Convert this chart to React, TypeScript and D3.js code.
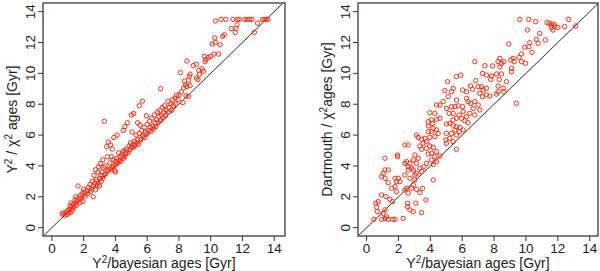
import React from 'react';
import * as d3 from 'd3';

// Y2/bayesian age vs Y2 chi2 age (left panel)
const chiPoints: [number, number][] = [
  [0.65, 0.88], [0.7, 0.95], [0.8, 0.8], [0.9, 1.0], [0.95, 0.85], [1.0, 1.1], [1.05, 0.95], [1.1, 1.2],
  [1.15, 1.4], [1.2, 1.0], [1.2, 1.6], [1.25, 1.3], [1.3, 1.15], [1.35, 1.5], [1.4, 1.35], [1.45, 1.8],
  [1.5, 1.6], [1.5, 2.0], [1.55, 1.45], [1.6, 1.75], [1.65, 2.7], [1.7, 1.9], [1.75, 1.6], [1.8, 2.1],
  [1.85, 1.85], [1.9, 2.2], [1.95, 1.7], [2.0, 2.5], [2.05, 2.3], [2.1, 2.05], [2.2, 2.4],
  [2.25, 2.2], [2.3, 2.6], [2.4, 2.8], [2.45, 2.35], [2.5, 2.5], [2.55, 3.0], [2.6, 2.0], [2.6, 2.7],
  [2.65, 3.4], [2.7, 2.9], [2.75, 2.45], [2.75, 3.75], [2.8, 3.1], [2.85, 2.7], [2.9, 3.6], [2.9, 2.9],
  [2.95, 3.95], [3.0, 3.2], [3.0, 2.7], [3.05, 4.15], [3.1, 3.4], [3.1, 3.0], [3.15, 3.6], [3.2, 4.4],
  [3.2, 3.2], [3.25, 3.9], [3.3, 6.9], [3.3, 3.4], [3.35, 4.0], [3.4, 3.5], [3.45, 5.25], [3.5, 3.7],
  [3.5, 4.6], [3.55, 5.55], [3.6, 3.8], [3.65, 4.2], [3.7, 5.35], [3.7, 3.75], [3.75, 4.6], [3.8, 3.9],
  [3.8, 5.1], [3.85, 4.4], [3.9, 4.0], [3.9, 5.85], [3.95, 3.7], [4.0, 4.3], [4.0, 3.6], [4.05, 4.1],
  [4.1, 6.0], [4.1, 4.5],
  [4.15, 4.2], [4.2, 4.85], [4.25, 4.35], [4.3, 4.6], [4.35, 4.3], [4.4, 4.75], [4.45, 4.9], [4.5, 4.5],
  [4.5, 6.3], [4.55, 5.0], [4.6, 4.6], [4.6, 6.55], [4.65, 4.8], [4.7, 5.1], [4.75, 6.8], [4.8, 4.85],
  [4.85, 5.3], [4.9, 5.05], [4.95, 5.5], [5.0, 7.3], [5.0, 5.2], [5.05, 6.2], [5.1, 5.4], [5.15, 7.4],
  [5.15, 5.2], [5.2, 5.6], [5.25, 5.35], [5.3, 6.0], [5.35, 5.5], [5.4, 6.8], [5.4, 5.7], [5.45, 5.4],
  [5.5, 7.9], [5.5, 6.1], [5.55, 6.65], [5.6, 5.7], [5.65, 6.3], [5.7, 8.2], [5.7, 5.9], [5.75, 6.0],
  [5.8, 6.5], [5.85, 5.85], [5.9, 6.2], [5.95, 7.25], [6.0, 6.1], [6.0, 6.7],
  [6.1, 6.3], [6.15, 6.9], [6.2, 6.5], [6.25, 6.25], [6.3, 7.1], [6.35, 6.6], [6.4, 6.4], [6.45, 7.3],
  [6.5, 6.8], [6.55, 6.55], [6.6, 7.0], [6.65, 7.5], [6.7, 6.8], [6.75, 7.2], [6.8, 7.6], [6.85, 9.0],
  [6.85, 6.95], [6.9, 7.3], [6.95, 7.8], [7.0, 7.1], [7.05, 7.45], [7.1, 7.9], [7.15, 7.25], [7.2, 7.6],
  [7.3, 8.2], [7.35, 7.5], [7.4, 7.8], [7.5, 8.0], [7.55, 7.6], [7.6, 8.3], [7.65, 7.9], [7.75, 8.4],
  [7.8, 8.0], [7.85, 8.6], [7.95, 8.3], [8.0, 8.6], [8.1, 10.05], [8.15, 8.8],
  [8.25, 8.1], [8.3, 9.05], [8.35, 9.5], [8.4, 9.25], [8.45, 8.55], [8.5, 9.15], [8.5, 10.8], [8.6, 9.55],
  [8.65, 9.8], [8.7, 9.95], [8.7, 9.2], [8.6, 8.5], [8.9, 10.5], [9.1, 10.6], [9.1, 9.7], [9.2, 9.6],
  [9.25, 10.2], [9.3, 9.95], [9.45, 10.3], [9.55, 10.15], [9.6, 11.1], [9.65, 10.75], [9.7, 10.9], [9.85, 11.05],
  [10.0, 11.1], [10.1, 11.9], [10.2, 11.25], [10.25, 12.3], [10.3, 12.0], [10.3, 13.4], [10.5, 11.25], [10.6, 11.85],
  [10.65, 13.5], [10.75, 12.4], [10.85, 12.5], [10.95, 13.5], [11.3, 12.9], [11.4, 13.5], [11.55, 12.65], [11.6, 12.9],
  [11.65, 13.15], [11.7, 13.5], [11.8, 13.5], [12.15, 13.5], [12.3, 13.5], [12.45, 13.5], [12.6, 13.5], [12.75, 12.65],
  [12.95, 13.25], [13.25, 13.5], [13.4, 13.5], [13.5, 13.5], [13.6, 13.5],
];

// Y2/bayesian age vs Dartmouth chi2 age (right panel)
const dartPoints: [number, number][] = [
  [9.61, 13.5], [10.18, 13.5], [10.61, 13.35], [12.68, 13.5], [11.32, 13.29], [11.49, 13.24], [11.6, 13.13],
  [11.74, 13.2], [11.6, 12.96], [11.7, 12.81], [11.8, 13.07], [12.0, 12.98], [12.43, 13.03], [13.12, 13.07],
  [10.09, 12.81], [10.86, 12.59], [11.22, 12.16], [10.65, 12.2], [10.76, 11.95], [10.24, 11.99], [10.18, 11.73],
  [9.92, 11.69], [10.38, 11.36], [8.92, 11.9], [9.72, 11.26], [9.57, 11.04], [9.19, 10.97], [9.05, 10.87],
  [9.26, 10.76], [9.72, 10.76], [9.97, 10.65], [8.36, 10.97], [8.25, 10.76], [8.46, 10.65], [8.61, 10.76],
  [6.79, 10.76], [7.42, 10.5], [7.9, 10.48], [8.36, 10.43], [9.09, 10.33], [9.09, 10.11], [8.15, 9.96],
  [8.46, 9.96], [7.84, 9.83], [7.52, 9.89], [7.27, 10.0], [8.32, 9.61], [7.79, 9.61], [5.91, 9.89],
  [5.64, 9.79], [5.08, 9.46], [5.43, 9.03], [5.33, 8.81], [4.91, 8.88], [5.12, 8.49], [4.6, 7.95],
  [4.39, 7.95], [4.81, 8.17], [4.28, 7.41], [3.97, 7.45],
  [6.85, 9.53], [6.52, 9.18], [6.65, 8.97], [7.0, 9.14], [7.21, 9.14], [7.31, 8.92], [7.52, 9.03],
  [7.1, 8.71], [7.27, 8.49], [7.52, 8.6], [7.73, 8.53], [8.25, 8.81], [8.15, 8.66], [8.61, 8.81],
  [9.4, 8.06], [6.27, 8.81], [6.02, 8.92], [6.27, 8.38], [6.37, 8.17], [6.52, 8.06], [6.79, 8.17],
  [7.0, 7.95], [6.69, 7.73], [7.1, 7.63], [6.79, 7.3], [6.48, 7.41], [6.27, 7.19], [6.06, 7.52],
  [6.02, 7.84], [5.64, 8.27], [5.54, 7.84], [5.75, 7.89], [5.33, 7.84], [5.01, 7.73], [5.18, 7.41],
  [5.43, 7.41], [5.81, 7.3], [5.64, 7.09], [5.96, 7.09], [5.43, 6.98], [5.22, 6.76], [5.01, 6.72],
  [5.43, 6.65], [5.64, 6.55], [5.85, 6.5], [6.16, 6.93], [6.37, 6.8], [6.06, 6.33], [5.81, 6.22],
  [5.54, 6.33], [5.33, 6.11], [5.01, 6.11], [5.64, 6.0], [5.22, 5.79], [4.97, 5.68], [5.43, 5.57],
  [5.01, 5.47], [5.64, 5.08], [4.6, 7.09], [4.39, 7.02], [4.07, 6.98], [3.87, 6.87], [4.14, 6.76],
  [3.87, 6.59], [4.18, 6.43], [4.39, 6.33], [4.07, 6.22], [3.87, 6.22], [4.49, 6.11], [4.28, 5.9],
  [3.97, 5.85], [3.66, 5.79], [3.45, 5.72], [3.13, 6.0], [3.24, 5.85], [3.76, 5.57], [3.55, 5.47],
  [3.34, 5.29], [3.97, 5.29], [3.76, 5.14], [3.45, 5.08], [4.18, 5.21], [4.39, 4.93], [4.07, 4.82],
  [3.87, 4.77], [4.28, 4.6], [4.6, 4.64], [4.07, 4.39], [4.39, 4.28], [3.76, 4.17], [4.18, 4.1],
  [3.59, 3.95], [3.34, 3.85], [3.45, 3.63], [3.13, 3.52], [2.93, 3.74], [3.13, 4.17], [3.24, 4.5],
  [3.03, 4.71], [2.93, 4.39], [2.72, 4.17], [2.51, 4.28], [2.4, 4.17], [2.61, 3.95], [2.82, 3.85],
  [2.61, 3.74], [2.4, 3.41], [3.03, 3.41], [2.72, 3.2], [3.03, 3.09], [2.93, 2.77], [2.82, 2.55],
  [2.51, 2.55], [2.4, 2.44], [2.61, 2.23], [3.13, 2.48], [3.34, 2.27], [3.51, 2.55], [3.72, 1.79],
  [4.18, 3.09], [3.09, 1.58], [3.45, 0.97], [2.93, 1.04], [2.57, 1.58], [2.57, 1.36], [2.72, 1.15],
  [2.3, 0.6], [2.4, 5.36], [2.61, 5.36], [1.94, 4.71], [1.94, 4.6], [1.15, 4.5], [1.15, 3.74],
  [1.36, 3.74], [1.04, 3.52], [0.94, 3.31], [1.15, 3.2], [1.78, 3.2], [1.99, 3.2], [1.88, 2.98],
  [2.09, 2.98], [1.36, 2.92], [1.57, 2.55], [1.78, 2.66], [1.88, 2.33], [0.94, 2.12], [1.21, 2.01],
  [1.46, 1.84], [1.63, 1.69], [0.73, 1.69], [0.58, 1.58], [0.63, 1.32], [0.67, 1.04], [1.15, 1.15],
  [1.04, 0.93], [1.25, 0.71], [1.15, 0.6], [0.94, 0.54], [1.36, 0.54], [1.63, 0.54], [0.46, 0.54],
  [1.78, 0.54], [8.57, 9.03], [8.78, 9.46], [8.25, 9.18],
];

const tickValues = [0, 2, 4, 6, 8, 10, 12, 14];

// label pieces: plain text or superscript
type Piece = { t: string; sup?: boolean };
const xTitle: Piece[] = [{ t: 'Y' }, { t: '2', sup: true }, { t: '/bayesian ages [Gyr]' }];
const chiTitle: Piece[] = [{ t: 'Y' }, { t: '2', sup: true }, { t: ' / χ' }, { t: '2', sup: true }, { t: ' ages [Gyr]' }];
const dartTitle: Piece[] = [{ t: 'Dartmouth / χ' }, { t: '2', sup: true }, { t: 'ages [Gyr]' }];

const RED = '#ff2a10';
const TEXT = '#222';
const FONT = '"Liberation Sans", Arial, Helvetica, sans-serif';
const LABEL_SIZE = 14;

const renderPieces = (pieces: Piece[]) =>
  pieces.map((p, i) => {
    const prevSup = i > 0 && pieces[i - 1].sup;
    if (p.sup) return <tspan key={i} dy={-5.5} fontSize={10}>{p.t}</tspan>;
    return <tspan key={i} dy={prevSup ? 5.5 : 0} fontSize={LABEL_SIZE}>{p.t}</tspan>;
  });

interface PanelProps {
  id: string;
  points: [number, number][];
  box: [number, number, number, number]; // left, top, right, bottom
  xDomain: [number, number];
  yDomain: [number, number];
  yLabel: Piece[];
}

const Panel: React.FC<PanelProps> = ({ id, points, box, xDomain, yDomain, yLabel }) => {
  const [left, top, right, bottom] = box;
  const x = d3.scaleLinear().domain(xDomain).range([left, right]);
  const y = d3.scaleLinear().domain(yDomain).range([bottom, top]);
  const lo = Math.max(xDomain[0], yDomain[0]);
  const hi = Math.min(xDomain[1], yDomain[1]);
  const cy = (top + bottom) / 2;
  const cx = (left + right) / 2;
  const line = d3.line<number>().x(d => x(d)).y(d => y(d));

  return (
    <g fontFamily={FONT} fill={TEXT}>
      <defs>
        <clipPath id={`clip-${id}`}>
          <rect x={left} y={top} width={right - left} height={bottom - top} />
        </clipPath>
      </defs>
      <path d={line([lo, hi]) || ''} stroke="#111" strokeWidth={0.9} fill="none" clipPath={`url(#clip-${id})`} />
      {points.map((p, i) => (
        <circle key={i} cx={x(p[0])} cy={y(p[1])} r={2.2} fill="none" stroke={RED} strokeWidth={1} />
      ))}
      <rect x={left} y={top} width={right - left} height={bottom - top} fill="none" stroke="#555" strokeWidth={1.5} />
      {tickValues.map(t => (
        <g key={`x${t}`}>
          <line x1={x(t)} x2={x(t)} y1={bottom} y2={bottom + 5} stroke="#333" />
          <text x={x(t)} y={bottom + 17} textAnchor="middle" fontSize={13.5}>{t}</text>
        </g>
      ))}
      {tickValues.map(t => (
        <g key={`y${t}`}>
          <line x1={left} x2={left - 5} y1={y(t)} y2={y(t)} stroke="#333" />
          <text transform={`translate(${left - 8},${y(t)}) rotate(-90)`} textAnchor="middle" fontSize={13.5}>{t}</text>
        </g>
      ))}
      <text x={cx} y={268} textAnchor="middle" fontSize={LABEL_SIZE}>
        {renderPieces(xTitle)}
      </text>
      <text transform={`translate(${left - 26},${cy}) rotate(-90)`} textAnchor="middle" fontSize={LABEL_SIZE}>
        {renderPieces(yLabel)}
      </text>
    </g>
  );
};

const App: React.FC = () => (
  <svg width={600} height={271} style={{ position: 'absolute', left: 0, top: 0, background: '#fff' }}>
    <Panel
      id="a"
      points={chiPoints}
      box={[43, 3, 285, 236]}
      xDomain={[-0.56, 14.68]}
      yDomain={[-0.54, 14.56]}
      yLabel={chiTitle}
    />
    <Panel
      id="b"
      points={dartPoints}
      box={[358, 3, 598, 236]}
      xDomain={[-0.54, 14.52]}
      yDomain={[-0.54, 14.56]}
      yLabel={dartTitle}
    />
  </svg>
);

export default App;
